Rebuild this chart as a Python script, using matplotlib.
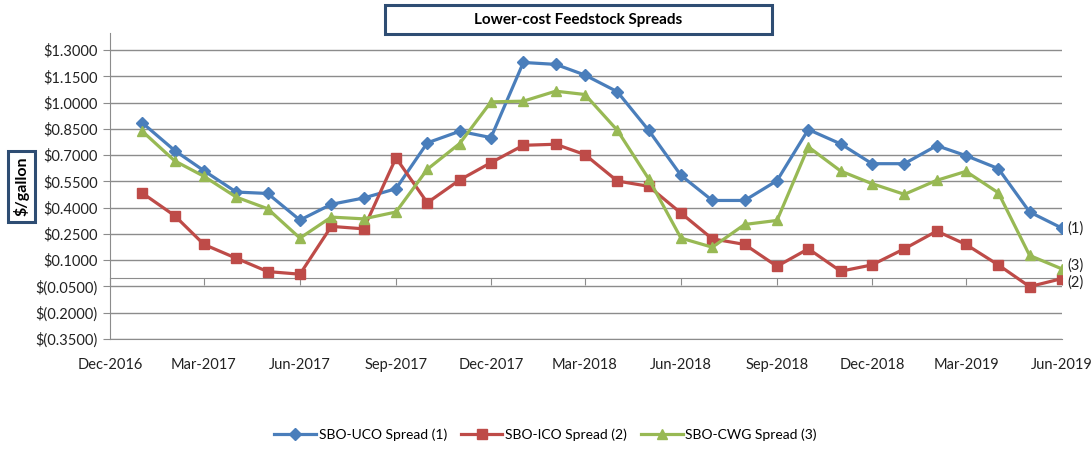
import numpy as np
import pandas as pd
import matplotlib
matplotlib.use("Agg")
import matplotlib.pyplot as plt
import matplotlib.dates as mdates
from matplotlib.ticker import FuncFormatter

plt.rcParams["font.family"] = ["Lato", "DejaVu Sans"]

months = pd.date_range("2017-01-01", "2019-06-01", freq="MS")

uco = [0.884, 0.726, 0.611, 0.489, 0.481, 0.329, 0.419, 0.455, 0.508, 0.770,
       0.836, 0.800, 1.229, 1.218, 1.157, 1.062, 0.842, 0.584, 0.441, 0.441,
       0.554, 0.846, 0.764, 0.651, 0.651, 0.754, 0.697, 0.623, 0.375, 0.283]
ico = [0.483, 0.354, 0.190, 0.111, 0.035, 0.020, 0.293, 0.279, 0.684, 0.428,
       0.558, 0.657, 0.756, 0.762, 0.703, 0.552, 0.522, 0.369, 0.222, 0.190,
       0.065, 0.165, 0.037, 0.073, 0.165, 0.266, 0.190, 0.073, -0.051, -0.005]
cwg = [0.836, 0.667, 0.579, 0.460, 0.394, 0.226, 0.346, 0.336, 0.375, 0.619,
       0.766, 1.004, 1.008, 1.065, 1.046, 0.842, 0.565, 0.226, 0.174, 0.304,
       0.327, 0.747, 0.609, 0.537, 0.476, 0.556, 0.607, 0.485, 0.127, 0.050]

series = [
    (uco, "SBO-UCO Spread (1)", "#4A7EBB", "D", 6, "(1)", 0),
    (ico, "SBO-ICO Spread (2)", "#BE4B48", "s", 7, "(2)", -0.025),
    (cwg, "SBO-CWG Spread (3)", "#98B954", "^", 7, "(3)", 0.02),
]

yticks = np.arange(-0.35, 1.31, 0.15)


def money(v, pos=None):
    if v < -1e-9:
        return "$({:.4f})".format(-v)
    return "${:.4f}".format(v)


fig = plt.figure(figsize=(10.91, 4.49), dpi=100)
ax = fig.add_axes([0.1008, 0.245, 0.8726, 0.6826])

for vals, label, color, marker, ms, tag, dy in series:
    ax.plot(months, vals, color=color, lw=2.3, marker=marker, ms=ms,
            label=label, zorder=3)
    ax.annotate(tag, (months[-1], vals[-1] + dy), xytext=(4, 0),
                textcoords="offset points", va="center", ha="left",
                fontsize=10.5, color="#222222")

ax.set_xlim(pd.Timestamp("2016-12-01"), pd.Timestamp("2019-06-01"))
ax.set_ylim(-0.35, 1.4)
ax.set_yticks(yticks)
ax.yaxis.set_major_formatter(FuncFormatter(money))
ax.grid(axis="y", color="#8C8C8C", lw=1.0)
ax.set_axisbelow(True)

for s in ["top", "right"]:
    ax.spines[s].set_visible(False)
ax.spines["left"].set_color("#8C8C8C")
# horizontal axis crosses at zero, labels stay at the bottom
ax.spines["bottom"].set_position(("data", 0))
ax.spines["bottom"].set_color("#8C8C8C")

ax.xaxis.set_major_locator(mdates.MonthLocator(bymonth=(3, 6, 9, 12)))
ax.tick_params(axis="x", labelbottom=False, length=5, color="#8C8C8C")
ax.tick_params(axis="y", length=5, color="#8C8C8C", labelsize=10.5,
               labelcolor="#222222", pad=4)

sec = ax.secondary_xaxis("bottom")
sec.xaxis.set_major_locator(mdates.MonthLocator(bymonth=(3, 6, 9, 12)))
sec.xaxis.set_major_formatter(mdates.DateFormatter("%b-%Y"))
sec.tick_params(length=0, labelsize=10.5, labelcolor="#222222", pad=14)
sec.spines["bottom"].set_color("#8C8C8C")

# title box
fig.patches.append(plt.Rectangle((385 / 1091, 1 - 34 / 449), 387 / 1091,
                                 29 / 449, transform=fig.transFigure,
                                 fill=False, ec="#2E4D73", lw=2.2))
fig.text(0.5295, 1 - 20 / 449, "Lower-cost Feedstock Spreads", ha="center",
         va="center", fontsize=11, fontweight="bold")

fig.text(0.0195, 0.585, "$/gallon", rotation=90, ha="center", va="center",
         fontsize=11.5, fontweight="bold",
         bbox=dict(boxstyle="square,pad=0.35", fc="white", ec="#2E4D73",
                   lw=2.2))

fig.legend(loc="lower center", bbox_to_anchor=(0.5, -0.01), ncol=3,
           frameon=False, fontsize=10, handlelength=3.0,
           columnspacing=1.0, handletextpad=0.2)

fig.savefig("out.png", dpi=100)
